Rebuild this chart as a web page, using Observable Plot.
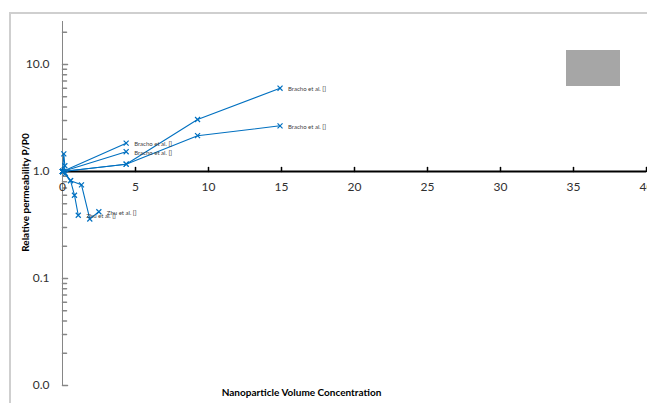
<!DOCTYPE html>
<html>
<head>
<meta charset="utf-8">
<script src="https://cdn.jsdelivr.net/npm/d3@7"></script>
<script src="https://cdn.jsdelivr.net/npm/@observablehq/plot@0.6"></script>
<style>
  html, body { margin: 0; padding: 0; background: #ffffff; }
  #wrap { position: relative; width: 647px; height: 403px; overflow: hidden; }
  #border { position: absolute; left: 9px; top: 12px; width: 700px; height: 500px;
            border-left: 2px solid #cfcfcf; border-top: 2px solid #cfcfcf; }
  #legendBox { position: absolute; left: 566px; top: 50px; width: 54px; height: 36px; background: #a6a6a6; }
  #chart { position: absolute; left: 0; top: 0; }
</style>
</head>
<body>
<div id="wrap">
  <div id="border"></div>
  <div id="chart"></div>
  <div id="legendBox"></div>
</div>
<script>
// ---- data ----
const brachoA_x = [0, 4.36];
const brachoA_y = [1.0, 1.84];
const brachoB_x = [0, 4.36];
const brachoB_y = [1.0, 1.53];
const brachoC_x = [0, 4.36, 9.25, 14.9];
const brachoC_y = [1.0, 1.17, 3.06, 6.0];
const brachoD_x = [0, 4.36, 9.25, 14.9];
const brachoD_y = [1.0, 1.17, 2.16, 2.67];
const spike_x = [0, 0.09, 0.16, 0.05];
const spike_y = [1.0, 1.46, 1.13, 1.0];
const zhuA_x = [0, 0.2, 0.55, 0.82, 1.08];
const zhuA_y = [1.0, 0.96, 0.82, 0.6, 0.39];
const zhuB_x = [0, 0.55, 1.3, 1.87, 2.49];
const zhuB_y = [1.0, 0.82, 0.75, 0.36, 0.42];

const seriesLabels = ["Bracho et al. []", "Bracho et al. []", "Bracho et al. []", "Bracho et al. []", "", "Zhu et al. []", "Zhu et al. []"];
const xTicks = [0, 5, 10, 15, 20, 25, 30, 35, 40];
const yMajor = [0.01, 0.1, 1, 10];
const yMinor = [0.02,0.03,0.04,0.05,0.06,0.07,0.08,0.09,0.2,0.3,0.4,0.5,0.6,0.7,0.8,0.9,2,3,4,5,6,7,8,9,20];
const xTitle = "Nanoparticle Volume Concentration";
const yTitle = "Relative permeability P/P0";

// build table
const allX = [brachoA_x, brachoB_x, brachoC_x, brachoD_x, spike_x, zhuA_x, zhuB_x];
const allY = [brachoA_y, brachoB_y, brachoC_y, brachoD_y, spike_y, zhuA_y, zhuB_y];
const points = [];
allX.forEach((xs, s) => xs.forEach((x, i) => points.push({s, x, y: allY[s][i]})));
const ends = allX.map((xs, s) => ({s, x: xs[xs.length-1], y: allY[s][xs.length-1], label: seriesLabels[s]}))
  .filter(d => d.label);

const blue = "#0070C0";
const tickShape = {draw(ctx, l) { ctx.moveTo(0, 0); ctx.lineTo(0, -l); }};

const chart = Plot.plot({
  width: 647, height: 403,
  marginLeft: 62, marginRight: 1, marginTop: 21, marginBottom: 18,
  x: {domain: [0, 40], axis: null},
  y: {type: "log", domain: [0.01, 25.2], axis: null},
  style: {fontFamily: "Lato, 'Open Sans', sans-serif", background: "transparent", overflow: "hidden"},
  marks: [
    Plot.ruleX([0], {stroke: "#868686", strokeWidth: 1}),
    Plot.vector(yMinor, {x: 0, y: d => d, length: 4, rotate: 90, anchor: "start", shape: tickShape, stroke: "#868686"}),
    Plot.vector(yMajor, {x: 0, y: d => d, length: 5, rotate: 90, anchor: "start", shape: tickShape, stroke: "#868686"}),
    Plot.text(yMajor, {x: 0, y: d => d, text: d => d.toFixed(1), textAnchor: "end", dx: -13, fontSize: 12, fill: "#303030"}),
    Plot.ruleY([1], {stroke: "#000000", strokeWidth: 2}),
    Plot.vector(xTicks, {x: d => d, y: 1, length: 4, rotate: 0, anchor: "start", shape: tickShape, stroke: "#000000"}),
    Plot.text(xTicks, {x: d => d, y: 1, text: d => String(d), dy: 16, fontSize: 12, fill: "#303030"}),
    Plot.line(points, {x: "x", y: "y", z: "s", stroke: blue, strokeWidth: 1.1}),
    Plot.dot(points, {x: "x", y: "y", symbol: "times", r: 2.4, stroke: blue, strokeWidth: 1.2}),
    Plot.text(ends, {x: "x", y: "y", text: "label", textAnchor: "start", dx: 8, dy: 1, fontSize: 6, fill: "#404040"}),
    Plot.text([yTitle], {frameAnchor: "left", textAnchor: "middle", lineAnchor: "middle", rotate: -90, dx: -37, dy: -11, fontSize: 10, fontWeight: "bold", fill: "#000"}),
    Plot.text([xTitle], {frameAnchor: "bottom", textAnchor: "middle", lineAnchor: "middle", dx: -53, dy: 7, fontSize: 10, fontWeight: "bold", fill: "#000"})
  ]
});
document.getElementById("chart").appendChild(chart);
</script>
</body>
</html>
